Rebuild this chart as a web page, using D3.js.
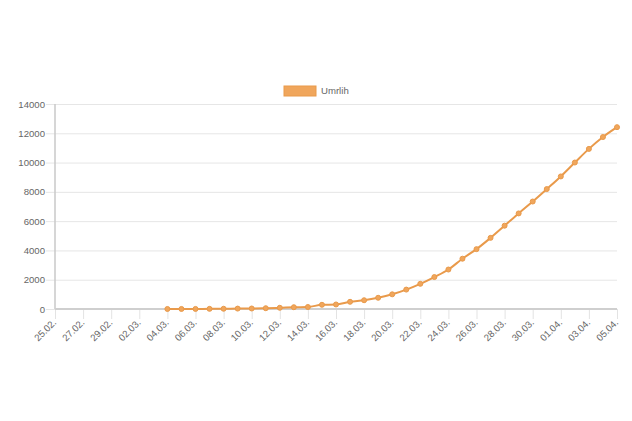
<!DOCTYPE html>
<html>
<head>
<meta charset="utf-8">
<script src="https://cdn.jsdelivr.net/npm/d3@7"></script>
<style>
  body { margin: 0; background: #fff; }
  svg text { font-family: "Liberation Sans", Arial, Helvetica, sans-serif; font-size: 9.6px; fill: #666; }
</style>
</head>
<body>
<div id="chart"></div>
<script>
// Data
const dates = ['25.02.','26.02.','27.02.','28.02.','29.02.','01.03.','02.03.','03.03.',
  '04.03.','05.03.','06.03.','07.03.','08.03.','09.03.','10.03.','11.03.','12.03.','13.03.',
  '14.03.','15.03.','16.03.','17.03.','18.03.','19.03.','20.03.','21.03.','22.03.','23.03.',
  '24.03.','25.03.','26.03.','27.03.','28.03.','29.03.','30.03.','31.03.','01.04.','02.04.',
  '03.04.','04.04.','05.04.']
const umrlih = [null,null,null,null,null,null,null,null,
  2,3,5,10,17,28,35,54,84,121,
  136,288,309,491,598,767,1002,1326,1720,2182,
  2696,3434,4089,4858,5690,6528,7340,8189,9053,10003,
  10935,11744,12418]
const yTicks = [0,2000,4000,6000,8000,10000,12000,14000]
const seriesName = 'Umrlih'

// Dimensions
const width = 632, height = 421
const margin = {top: 104, right: 15, bottom: 112, left: 55}

const svg = d3.select('#chart')
  .append('svg')
  .attr('width', width)
  .attr('height', height)

// scales
const x = d3.scalePoint()
  .domain(dates)
  .range([margin.left, width - margin.right])

const y = d3.scaleLinear()
  .domain([0, 14000])
  .range([height - margin.bottom, margin.top])

const lineColor = '#e99a4b'
const fillColor = '#f0a65c'

// y grid + labels
const yAxis = d3.axisLeft(y)
  .tickValues(yTicks)
  .tickSize(-(width - margin.left - margin.right))
  .tickFormat(d3.format('d'))
  .tickPadding(10)

const gy = svg.append('g')
  .attr('transform', `translate(${margin.left},0)`)
  .call(yAxis)
gy.select('.domain').remove()
gy.selectAll('.tick line')
  .attr('x1', -9)
  .attr('stroke', '#e6e6e6')
gy.selectAll('.tick text').attr('fill', '#666')

// x grid (only every second day is shown)
const shown = dates.filter((d, i) => i % 2 === 0)
const xAxis = d3.axisBottom(x)
  .tickValues(shown)
  .tickSize(-(height - margin.top - margin.bottom))
  .tickFormat('')

const gx = svg.append('g')
  .attr('transform', `translate(0,${height - margin.bottom})`)
  .call(xAxis)
gx.select('.domain').remove()
gx.selectAll('.tick line')
  .attr('y2', 10)
  .attr('stroke', '#e3e3e3')

// rotated x labels
svg.append('g')
  .selectAll('text')
  .data(shown)
  .join('text')
  .attr('text-anchor', 'end')
  .attr('transform', d => `translate(${x(d) + 2},${height - margin.bottom + 14}) rotate(-45)`)
  .text(d => d)

// axis lines
svg.append('line')
  .attr('x1', margin.left).attr('x2', margin.left)
  .attr('y1', margin.top).attr('y2', y(0))
  .attr('stroke', '#c8c8c8')
  .attr('stroke-width', 1.5)
svg.append('line')
  .attr('x1', margin.left).attr('x2', width - margin.right)
  .attr('y1', y(0)).attr('y2', y(0))
  .attr('stroke', '#cfcfcf')
  .attr('stroke-width', 2)

// line
const pts = dates.map((d, i) => ({d, v: umrlih[i]})).filter(p => p.v !== null)

const line = d3.line()
  .x(p => x(p.d))
  .y(p => y(p.v))
  .curve(d3.curveMonotoneX)

svg.append('path')
  .datum(pts)
  .attr('fill', 'none')
  .attr('stroke', lineColor)
  .attr('stroke-width', 2)
  .attr('d', line)

svg.append('g')
  .selectAll('circle')
  .data(pts)
  .join('circle')
  .attr('cx', p => x(p.d))
  .attr('cy', p => y(p.v))
  .attr('r', 2.5)
  .attr('fill', fillColor)
  .attr('stroke', lineColor)
  .attr('stroke-width', 1)

// legend
const legend = svg.append('g').attr('transform', 'translate(284,86)')
legend.append('rect')
  .attr('width', 32)
  .attr('height', 10)
  .attr('fill', fillColor)
  .attr('stroke', lineColor)
  .attr('stroke-width', 1)
legend.append('text')
  .attr('x', 37)
  .attr('y', 5)
  .attr('dy', '0.35em')
  .text(seriesName)
</script>
</body>
</html>
